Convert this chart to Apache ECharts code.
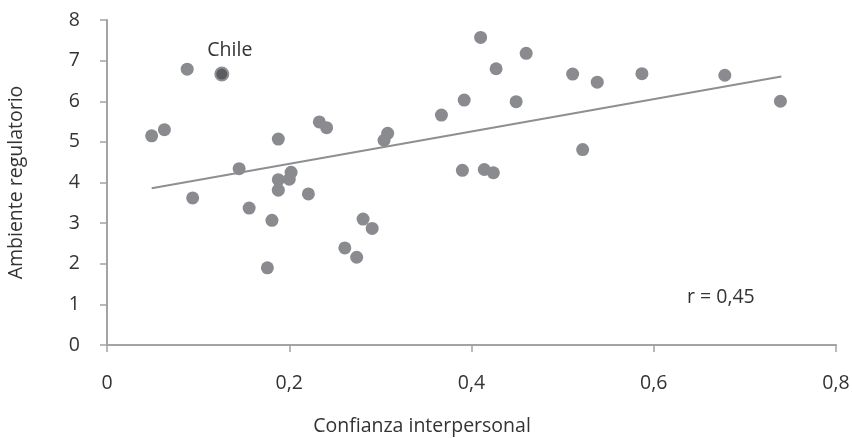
<!DOCTYPE html>
<html>
<head>
<meta charset="utf-8">
<script src="https://cdn.jsdelivr.net/npm/echarts@6/dist/echarts.min.js"></script>
<style>
html,body{margin:0;padding:0;background:#fff;}
#chart{width:852px;height:438px;}
</style>
</head>
<body>
<div id="chart"></div>
<script>
// Confianza interpersonal (x) vs Ambiente regulatorio (y)
const trustValues = [0.049,0.063,0.088,0.094,0.145,0.156,0.176,0.181,0.188,0.188,0.188,0.200,0.202,0.221,0.233,0.241,0.261,0.274,0.281,0.291,0.304,0.308,0.367,0.390,0.392,0.410,0.414,0.424,0.427,0.449,0.460,0.511,0.522,0.538,0.587,0.678,0.739];
const regulatoryValues = [5.15,5.30,6.79,3.62,4.34,3.37,1.90,3.07,5.07,4.07,3.81,4.08,4.25,3.72,5.49,5.35,2.39,2.16,3.10,2.87,5.04,5.21,5.66,4.30,6.03,7.57,4.32,4.24,6.80,5.99,7.18,6.67,4.81,6.47,6.68,6.64,6.00];
const chilePoint = [0.126, 6.67];
const trendX = [0.049, 0.740];
const trendY = [3.86, 6.61];
const xTicks = [0, 0.2, 0.4, 0.6, 0.8];
const yTicks = [0,1,2,3,4,5,6,7,8];
const rLabel = 'r = 0,45';

const pts = trustValues.map((x,i)=>[x, regulatoryValues[i]]);
const trend = trendX.map((x,i)=>[x, trendY[i]]);
const font = '"Open Sans", "Noto Sans", sans-serif';
const fs = 19.5;
const axisColor = '#a3a3a6';

const chart = echarts.init(document.getElementById('chart'), null, {renderer:'canvas'});
chart.setOption({
  animation:false,
  backgroundColor:'#fff',
  grid:{left:107, right:16, top:20, bottom:93, containLabel:false, outerBoundsMode:'none'},
  xAxis:{
    type:'value', min:xTicks[0], max:xTicks[xTicks.length-1], interval:0.2,
    name:'Confianza interpersonal', nameLocation:'middle', nameGap:71,
    nameTextStyle:{fontFamily:font, fontSize:fs, color:'#333', padding:[0,99,0,0]},
    axisLine:{show:true, lineStyle:{color:axisColor, width:2}},
    axisTick:{show:true, length:7, lineStyle:{color:axisColor, width:1.5}},
    splitLine:{show:false},
    axisLabel:{fontFamily:font, fontSize:fs, color:'#333', margin:28,
      formatter:v=>String(Math.round(v*10)/10).replace('.',',')}
  },
  yAxis:{
    type:'value', min:yTicks[0], max:yTicks[yTicks.length-1], interval:1,
    name:'Ambiente regulatorio', nameLocation:'middle', nameGap:81,
    nameTextStyle:{fontFamily:font, fontSize:fs, color:'#333'},
    axisLine:{show:true, lineStyle:{color:axisColor, width:2}},
    axisTick:{show:true, length:7, lineStyle:{color:axisColor, width:1.5}},
    splitLine:{show:false},
    axisLabel:{fontFamily:font, fontSize:fs, color:'#333', margin:27}
  },
  graphic:[{
    type:'text', x:687, y:297,
    style:{text:rLabel, fontFamily:font, fontSize:fs, fill:'#333', align:'left', verticalAlign:'middle'}
  }],
  series:[
    {
      type:'line', data:trend, symbol:'none', silent:true, z:1,
      lineStyle:{color:'#8e8f93', width:2}
    },
    {
      type:'scatter', data:pts, symbolSize:13, z:2,
      itemStyle:{color:'#8a8b8f', opacity:1}
    },
    {
      type:'scatter', data:[chilePoint], symbolSize:13, z:3,
      itemStyle:{color:'#5c5d61', borderColor:'#8e8f93', borderWidth:2, opacity:1},
      label:{show:true, formatter:'Chile', position:'inside', offset:[8,-24],
        fontFamily:font, fontSize:fs, color:'#333'}
    }
  ]
});
</script>
</body>
</html>
